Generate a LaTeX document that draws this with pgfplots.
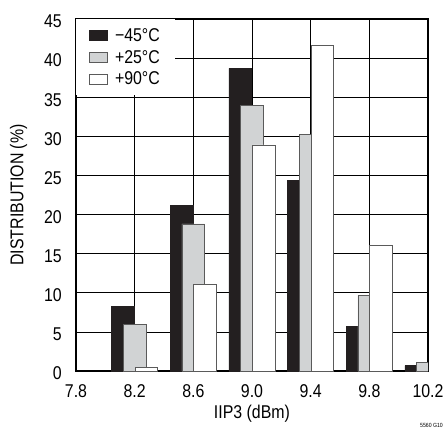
\documentclass[border=0pt]{standalone}
\usepackage{fontspec}
\setmainfont[FakeStretch=0.86]{Liberation Sans}
\usepackage{pgfplots}
\pgfplotsset{compat=1.18}
\definecolor{barblack}{HTML}{231F20}
\definecolor{bargray}{HTML}{D1D3D4}
\definecolor{edgegray}{HTML}{5A5A5A}
\begin{document}
\begin{tikzpicture}[x=1pt,y=1pt]
\useasboundingbox (0,0) rectangle (443,429);
\begin{axis}[
  at={(76pt,58pt)}, anchor=south west,
  scale only axis, width=352pt, height=352pt,
  xmin=7.8, xmax=10.2, ymin=0, ymax=45,
  xtick={7.8,8.2,8.6,9.0,9.4,9.8,10.2},
  xticklabels={7.8,8.2,8.6,9.0,9.4,9.8,10.2},
  ytick={0,5,...,45},
  grid=major, major grid style={black, line width=0.7pt},
  major tick length=0pt,
  axis line style={line width=1.2pt},
  tick label style={font=\fontsize{18.5}{22}\selectfont, inner sep=0pt},
  /pgf/number format/assume math mode=true,
  xticklabel style={anchor=center, yshift=-20.5pt},
  yticklabel style={anchor=east, xshift=-14pt, yshift=-2.5pt},
  label style={font=\fontsize{18.5}{22}\selectfont},
  xlabel={IIP3 (dBm)}, ylabel={DISTRIBUTION (\%)},
  xlabel style={at={(axis description cs:0.5,0)}, anchor=center, yshift=-43pt},
  ylabel style={at={(axis description cs:0,0.5)}, anchor=center, yshift=57.5pt},
  ybar, bar width=0.155,
  legend image code/.code={\draw[#1] (0pt,-5pt) rectangle (18pt,5pt);},
  legend style={at={(0,1)}, anchor=north west, draw=none, fill=white,
    inner xsep=13pt, inner ysep=7pt, row sep=3.5pt,
    font=\fontsize{18.5}{21.5}\selectfont,
    /tikz/every odd column/.append style={column sep=5pt}},
  legend cell align=left,
]
\addplot[bar shift=-0.08, fill=barblack, draw=barblack, line width=0.8pt]
  coordinates {(8.2,8.3) (8.6,21.2) (9.0,38.7) (9.4,24.4) (9.8,5.7) (10.2,0.7)};
\addplot[bar shift=0, fill=bargray, draw=edgegray, line width=0.8pt]
  coordinates {(8.2,5.9) (8.6,18.8) (9.0,33.9) (9.4,30.2) (9.8,9.7) (10.2,1.07)};
\addplot[bar shift=0.08, fill=white, draw=edgegray, line width=0.8pt]
  coordinates {(8.2,0.5) (8.6,11.05) (9.0,28.9) (9.4,41.6) (9.8,16.0)};
\legend{−45°C, +25°C, +90°C}
\end{axis}
\node[anchor=south east, inner sep=0pt, font=\fontsize{6}{7}\selectfont] at (443,1) {5560 G10};
\end{tikzpicture}
\end{document}
